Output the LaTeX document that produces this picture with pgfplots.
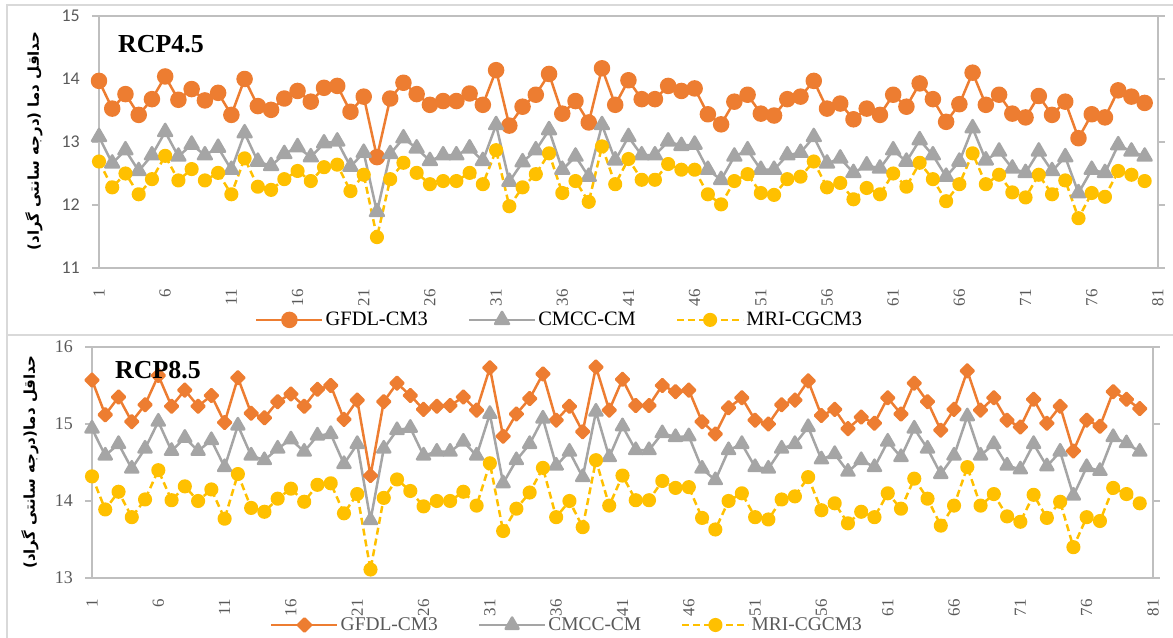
\documentclass[border=0pt]{standalone}
\usepackage{fontspec}
\setmainfont{Liberation Serif}
\newfontfamily\calibri{Carlito}
\newfontfamily\fa[Script=Arabic]{DejaVu Sans}
\usepackage{pgfplots}
\usepackage{pgfplotstable}
\pgfplotsset{compat=1.18}
\TeXXeTstate=1
\definecolor{cOr}{HTML}{ED7D31}
\definecolor{cGr}{HTML}{A5A5A5}
\definecolor{cYe}{HTML}{FFC000}
\definecolor{cAx}{HTML}{BFBFBF}
\definecolor{cFr}{HTML}{D9D9D9}
\definecolor{cTx}{HTML}{595959}

\pgfplotstableread{
x g c m
1 13.97 13.08 12.69
2 13.53 12.66 12.28
3 13.76 12.87 12.50
4 13.43 12.54 12.17
5 13.68 12.79 12.41
6 14.04 13.16 12.78
7 13.67 12.77 12.39
8 13.84 12.96 12.57
9 13.66 12.79 12.39
10 13.78 12.91 12.51
11 13.43 12.56 12.17
12 14.00 13.14 12.74
13 13.57 12.69 12.29
14 13.51 12.62 12.24
15 13.69 12.81 12.41
16 13.81 12.92 12.54
17 13.64 12.76 12.38
18 13.86 12.98 12.60
19 13.89 13.01 12.64
20 13.48 12.61 12.22
21 13.72 12.83 12.48
22 12.76 11.89 11.49
23 13.69 12.81 12.41
24 13.94 13.06 12.67
25 13.76 12.90 12.51
26 13.59 12.70 12.33
27 13.65 12.79 12.38
28 13.65 12.79 12.38
29 13.77 12.90 12.51
30 13.59 12.70 12.33
31 14.14 13.27 12.87
32 13.26 12.37 11.98
33 13.56 12.68 12.28
34 13.75 12.87 12.49
35 14.08 13.19 12.82
36 13.45 12.56 12.19
37 13.65 12.77 12.38
38 13.31 12.45 12.05
39 14.17 13.27 12.93
40 13.59 12.71 12.33
41 13.98 13.08 12.73
42 13.68 12.79 12.40
43 13.68 12.79 12.40
44 13.89 13.01 12.65
45 13.81 12.94 12.56
46 13.85 12.96 12.56
47 13.44 12.56 12.17
48 13.28 12.40 12.01
49 13.64 12.77 12.38
50 13.75 12.87 12.49
51 13.45 12.56 12.19
52 13.42 12.56 12.16
53 13.68 12.79 12.41
54 13.72 12.83 12.45
55 13.97 13.08 12.69
56 13.53 12.66 12.28
57 13.61 12.74 12.35
58 13.36 12.51 12.09
59 13.53 12.63 12.27
60 13.43 12.58 12.17
61 13.75 12.87 12.50
62 13.56 12.69 12.29
63 13.93 13.03 12.67
64 13.68 12.79 12.41
65 13.32 12.45 12.06
66 13.60 12.69 12.33
67 14.10 13.22 12.82
68 13.59 12.71 12.33
69 13.75 12.85 12.48
70 13.45 12.58 12.20
71 13.39 12.51 12.12
72 13.73 12.85 12.48
73 13.43 12.54 12.17
74 13.64 12.76 12.39
75 13.06 12.19 11.79
76 13.44 12.56 12.19
77 13.39 12.51 12.13
78 13.82 12.95 12.54
79 13.72 12.85 12.48
80 13.62 12.77 12.38
}\topdata

\pgfplotstableread{
x g c m
1 15.57 14.94 14.32
2 15.12 14.59 13.89
3 15.35 14.74 14.12
4 15.03 14.42 13.79
5 15.25 14.68 14.02
6 15.63 15.03 14.40
7 15.23 14.65 14.01
8 15.44 14.82 14.19
9 15.23 14.65 14.00
10 15.37 14.79 14.15
11 15.02 14.44 13.77
12 15.60 14.98 14.35
13 15.14 14.59 13.91
14 15.08 14.53 13.86
15 15.29 14.68 14.03
16 15.39 14.80 14.16
17 15.23 14.64 13.99
18 15.45 14.85 14.21
19 15.50 14.87 14.23
20 15.06 14.48 13.84
21 15.31 14.74 14.09
22 14.33 13.75 13.11
23 15.29 14.68 14.04
24 15.53 14.92 14.28
25 15.37 14.95 14.13
26 15.19 14.59 13.93
27 15.23 14.64 14.00
28 15.24 14.64 14.00
29 15.35 14.77 14.12
30 15.18 14.59 13.94
31 15.73 15.13 14.49
32 14.84 14.23 13.61
33 15.13 14.53 13.90
34 15.33 14.74 14.11
35 15.65 15.07 14.43
36 15.05 14.46 13.79
37 15.23 14.64 14.00
38 14.90 14.31 13.66
39 15.74 15.16 14.53
40 15.18 14.57 13.94
41 15.58 14.97 14.33
42 15.24 14.66 14.01
43 15.24 14.66 14.01
44 15.50 14.88 14.26
45 15.42 14.83 14.17
46 15.44 14.84 14.18
47 15.03 14.42 13.78
48 14.87 14.27 13.63
49 15.21 14.66 14.00
50 15.34 14.74 14.10
51 15.05 14.44 13.79
52 15.00 14.42 13.76
53 15.25 14.68 14.02
54 15.31 14.74 14.06
55 15.56 14.96 14.31
56 15.11 14.54 13.88
57 15.19 14.61 13.97
58 14.94 14.38 13.71
59 15.09 14.53 13.86
60 15.01 14.44 13.79
61 15.34 14.77 14.10
62 15.13 14.57 13.90
63 15.53 14.94 14.29
64 15.29 14.68 14.03
65 14.92 14.35 13.68
66 15.19 14.59 13.94
67 15.69 15.10 14.44
68 15.18 14.59 13.94
69 15.34 14.74 14.09
70 15.05 14.46 13.80
71 14.96 14.41 13.73
72 15.32 14.74 14.08
73 15.01 14.45 13.78
74 15.23 14.64 13.99
75 14.65 14.07 13.40
76 15.05 14.44 13.79
77 14.97 14.39 13.74
78 15.42 14.83 14.17
79 15.32 14.75 14.09
80 15.20 14.64 13.97
}\botdata

\pgfplotsset{
  common/.style={
    scale only axis,
    xmin=1, xmax=81,
    xtick={1,6,...,81},
    axis line style={cAx, line width=1.3bp},
    tick align=outside,
    xtick style={draw=none},
    ytick style={cAx, line width=1.3bp},
    major tick length=7bp,
    /pgf/number format/assume math mode=true,
    xticklabel style={rotate=90, anchor=east, inner sep=0pt, font=\fontsize{17}{17}\selectfont, text=cTx},
    xticklabel shift=14bp,
    yticklabel style={inner sep=0pt, text=cTx},
    yticklabel shift=12bp,
    legend columns=3,
    legend cell align=left,
    legend image code/.code={\draw[mark repeat=2,mark phase=2] plot coordinates {(0bp,0bp) (33bp,0bp) (66bp,0bp)};},
    legend style={draw=none, fill=none, inner sep=0pt, anchor=west,
      /tikz/every even column/.append style={column sep=38bp}},
  },
  sOr/.style={cOr, line width=2.5bp, line join=round},
  sGr/.style={cGr, line width=2.5bp, line join=round, mark=triangle*, mark options={solid, fill=cGr, draw=cGr}},
  sYe/.style={cYe, line width=2.5bp, line join=round, dash pattern=on 7bp off 4bp, mark=*, mark options={solid, fill=cYe, draw=cYe}},
}

\begin{document}
\begin{tikzpicture}[x=1bp,y=1bp]
\useasboundingbox (0,0) rectangle (1173,638);
\draw[cFr, line width=1.5bp] (7,-5) -- (7,633) -- (1180,633);
\draw[cFr, line width=1.5bp] (7,303) -- (1180,303);

\begin{axis}[common,
  at={(99bp,370bp)}, anchor=south west,
  width=1059bp, height=252bp,
  ymin=11, ymax=15, ytick={11,12,13,14,15},
  yticklabel style={font=\calibri\fontsize{18}{18}\selectfont},
  legend style={at={(0.1473,-0.206)}, font=\fontsize{20.5}{20.5}\selectfont, text=black},
]
\addplot[sOr, mark=*, mark size=7bp, mark options={solid, fill=cOr, draw=cOr}] table[x=x,y=g]{\topdata};
\addplot[sGr, mark size=8bp] table[x=x,y=c]{\topdata};
\addplot[sYe, mark size=5.8bp] table[x=x,y=m]{\topdata};
\legend{GFDL-CM3,CMCC-CM,MRI-CGCM3}
\end{axis}

\begin{axis}[common,
  at={(92bp,60bp)}, anchor=south west,
  width=1061bp, height=231bp,
  ymin=13, ymax=16, ytick={13,14,15,16},
  yticklabel style={font=\fontsize{18}{18}\selectfont},
  legend style={at={(0.1678,-0.2035)}, font=\fontsize{19.5}{19.5}\selectfont, text=cTx},
]
\addplot[sOr, mark=square*, mark size=4.6bp, mark options={solid, rotate=45, fill=cOr, draw=cOr}] table[x=x,y=g]{\botdata};
\addplot[sGr, mark size=7.5bp] table[x=x,y=c]{\botdata};
\addplot[sYe, mark size=5.8bp] table[x=x,y=m]{\botdata};
\legend{GFDL-CM3,CMCC-CM,MRI-CGCM3}
\end{axis}

\node[anchor=west, inner sep=0pt, font=\bfseries\fontsize{26}{26}\selectfont] at (118,594) {RCP4.5};
\node[anchor=west, inner sep=0pt, font=\bfseries\fontsize{26}{26}\selectfont] at (115,268) {RCP8.5};

\node[rotate=90, inner sep=0pt, font=\fa\bfseries\fontsize{15}{15}\selectfont] at (34,497) {\beginR حداقل دما (درجه سانتی گراد)\endR};
\node[rotate=90, inner sep=0pt, font=\fa\bfseries\fontsize{15}{15}\selectfont] at (30,176) {\beginR حداقل دما(درجه سانتی گراد)\endR};
\end{tikzpicture}
\end{document}
